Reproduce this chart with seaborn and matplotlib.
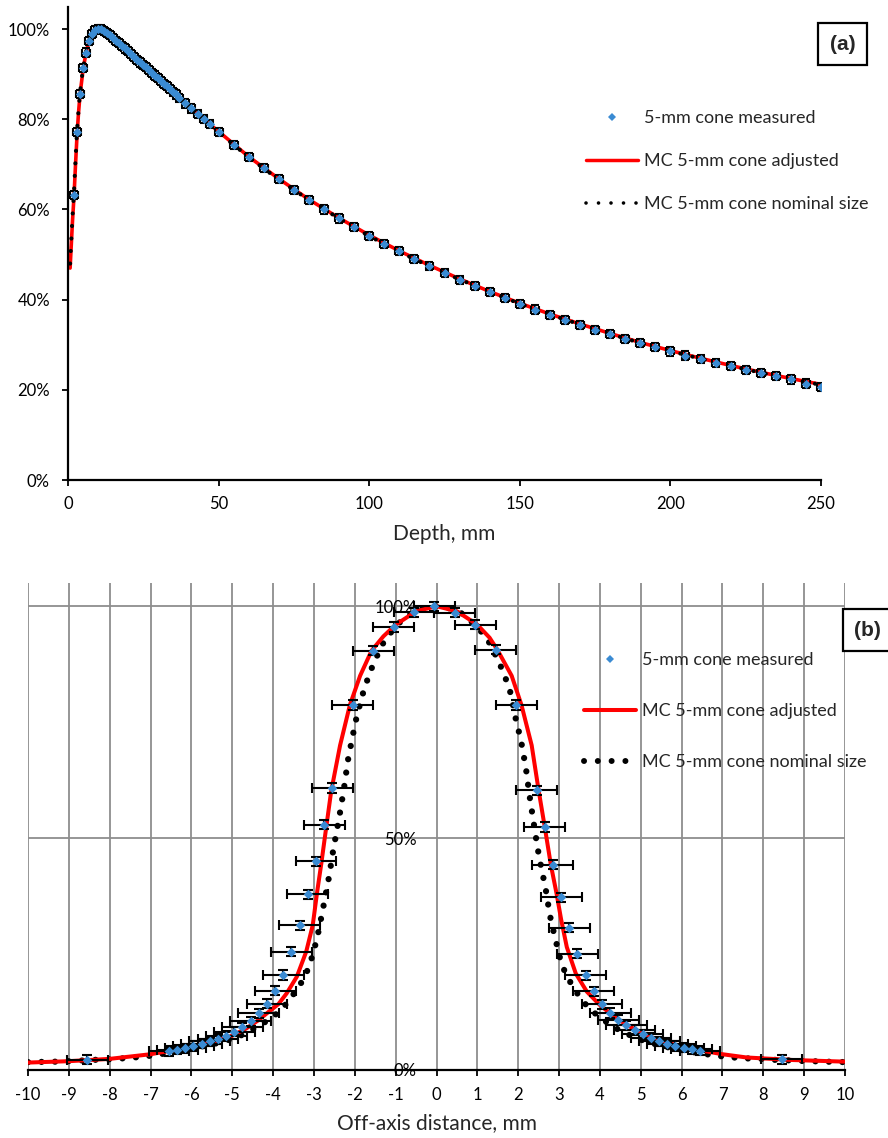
import matplotlib
matplotlib.use("Agg")
import matplotlib.pyplot as plt
from matplotlib.lines import Line2D
from matplotlib.ticker import PercentFormatter
import seaborn as sns

# ---------------- data: panel (a) depth dose ----------------
depth_meas = [2, 3, 4, 5, 6, 7, 8, 9, 10, 11, 12, 13, 14, 15, 16, 17, 18, 19, 20,
              21, 22, 23, 24, 25, 26, 27, 28, 29, 30, 31, 32, 33, 34, 35, 36,
              37, 39, 41, 43, 45, 47, 50, 55, 60, 65, 70, 75, 80, 85, 90, 95, 100,
              105, 110, 115, 120, 125, 130, 135, 140, 145, 150, 155, 160, 165, 170,
              175, 180, 185, 190, 195, 200, 205, 210, 215, 220, 225, 230, 235, 240,
              245, 250]
pdd_meas = [63.3, 77.2, 85.6, 91.4, 94.8, 97.4, 99.0, 99.8, 100.0, 100.0, 99.6, 99.1,
            98.6, 98.0, 97.4, 96.9, 96.3, 95.7, 95.1, 94.4, 93.8, 93.2, 92.6, 92.0,
            91.5, 90.9, 90.3, 89.7, 89.1, 88.5, 87.9, 87.3, 86.7, 86.1, 85.5,
            84.7, 83.5, 82.4, 81.2, 80.0, 78.9, 77.2, 74.3, 71.6, 69.1, 66.7, 64.3,
            62.1, 60.0, 58.0, 56.1, 54.2, 52.4, 50.7, 49.0, 47.4, 45.9, 44.4, 43.0,
            41.6, 40.3, 39.0, 37.8, 36.6, 35.5, 34.4, 33.3, 32.3, 31.3, 30.3, 29.4,
            28.5, 27.6, 26.8, 26.0, 25.2, 24.4, 23.7, 23.0, 22.3, 21.4, 20.7]

depth_mc = [0.7, 1.0, 1.5, 2.0, 2.5, 3.0, 3.5, 4.0, 5.0, 6.0, 7.0, 8.0, 9.0, 10.0,
            11.0, 12.0, 14, 16, 18, 20, 25, 30, 35, 40, 45, 50, 60, 70, 80, 90, 100,
            110, 120, 130, 140, 150, 160, 170, 180, 190, 200, 210, 220, 230, 240, 250]
pdd_adjusted = [47.0, 51.0, 57.5, 63.0, 70.0, 76.5, 81.5, 85.5, 91.0, 94.8, 97.3, 98.8,
                99.6, 100.0, 100.0, 99.7, 98.7, 97.5, 96.3, 95.1, 92.0, 89.1, 86.1,
                83.0, 80.0, 77.3, 71.7, 66.8, 62.2, 58.1, 54.3, 50.8, 47.6, 44.6, 41.8,
                39.2, 36.8, 34.6, 32.5, 30.5, 28.7, 27.0, 25.4, 23.9, 22.5, 21.2]
pdd_nominal = [48.0, 52.0, 58.5, 64.0, 71.0, 77.5, 82.0, 86.0, 91.3, 95.0, 97.5, 99.0,
               99.8, 100.0, 99.9, 99.6, 98.6, 97.4, 96.2, 95.0, 91.9, 88.9, 85.9,
               82.9, 79.9, 77.1, 71.6, 66.6, 62.1, 58.0, 54.1, 50.6, 47.4, 44.5, 41.7,
               39.1, 36.7, 34.5, 32.4, 30.4, 28.6, 26.9, 25.3, 23.8, 22.4, 21.1]

# ---------------- data: panel (b) profile ----------------
off_meas = [-8.55, -6.55, -6.35, -6.15, -5.95, -5.75, -5.55, -5.35, -5.15, -4.95,
            -4.75, -4.55, -4.35, -4.15, -3.95, -3.75, -3.55, -3.35, -3.15, -2.95,
            -2.75, -2.55, -2.05, -1.55, -1.05, -0.55, -0.05, 0.45, 0.95, 1.45, 1.95,
            2.45, 2.65, 2.85, 3.05, 3.25, 3.45, 3.65, 3.85, 4.05, 4.25, 4.45, 4.65,
            4.85, 5.05, 5.25, 5.45, 5.65, 5.85, 6.05, 6.25, 6.45, 8.45]
prof_meas = [2.2, 4.1, 4.4, 4.7, 5.2, 5.7, 6.2, 6.7, 7.4, 8.3, 9.2, 10.5, 12.2, 14.3,
             17.1, 20.5, 25.5, 31.2, 37.9, 45.0, 52.9, 60.8, 78.7, 90.4, 95.5, 98.7,
             100.0, 98.6, 96.0, 90.6, 78.7, 60.3, 52.4, 44.3, 37.2, 30.7, 25.1, 20.4,
             17.0, 14.2, 12.3, 10.8, 9.6, 8.6, 7.7, 7.0, 6.2, 5.7, 5.2, 4.8, 4.5, 4.2,
             2.3]

off_adjusted = [-10, -9, -8, -7, -6.3, -6.0, -5.5, -5.0, -4.65, -4.35, -4.1, -3.87,
                -3.67, -3.42, -3.19, -3.03, -2.92, -2.82, -2.72, -2.58, -2.36, -2.12,
                -1.87, -1.59, -1.3, -1.0, -0.5, 0.0, 0.5, 1.0, 1.3, 1.49, 1.84, 2.08,
                2.33, 2.5, 2.65, 2.8, 2.94, 3.05, 3.19, 3.41, 3.68, 4.0, 4.41, 4.9,
                5.39, 6.04, 7.0, 7.59, 8.73, 10]
prof_adjusted = [1.6, 1.9, 2.4, 3.4, 4.5, 5.1, 6.0, 7.4, 9.0, 10.8, 12.6, 14.2, 16.5,
                 20.1, 25.5, 31.2, 38.5, 44.5, 51.0, 60.0, 70.0, 78.7, 85.0, 90.4,
                 93.5, 96.0, 98.9, 100.0, 98.9, 96.0, 93.2, 90.6, 85.0, 78.7, 70.0,
                 60.3, 52.4, 44.2, 38.0, 32.5, 26.5, 20.8, 16.9, 14.0, 11.1, 8.5, 6.6,
                 4.9, 3.4, 2.7, 2.15, 1.8]

off_nominal = [-10, -9.3, -9.0, -8.34, -8.0, -7.4, -7.07, -6.75, -6.44, -6.12, -5.79,
               -5.46, -5.14, -4.85, -4.61, -4.32, -4.03, -3.79, -3.59, -3.41, -3.24,
               -3.12, -3.02, -2.94, -2.87, -2.81, -2.75, -2.63, -2.53, -2.36, -2.26,
               -2.17, -2.05, -1.97, -1.83, -1.73, -1.63, -1.5, -1.38, -1.22, -0.79,
               -0.4, 0.0, 0.35, 0.7, 1.15, 1.31, 1.47, 1.6, 1.71, 1.82, 1.93, 2.02,
               2.09, 2.19, 2.27, 2.37, 2.47, 2.53, 2.59, 2.66, 2.71, 2.76, 2.82, 2.9,
               2.97, 3.05, 3.17, 3.33, 3.5, 3.7, 3.95, 4.2, 4.47, 4.76, 5.1, 5.43,
               5.76, 6.1, 6.61, 6.94, 7.27, 7.59, 7.92, 8.24, 8.86, 9.19, 9.51, 10]
prof_nominal = [1.7, 1.8, 1.9, 2.2, 2.3, 2.7, 3.0, 3.4, 3.9, 4.5, 5.0, 5.6, 6.3, 7.2,
                8.2, 9.7, 11.2, 13.2, 15.1, 17.6, 19.7, 22.4, 25.1, 27.9, 30.6, 33.4,
                36.1, 41.7, 47.3, 55.6, 61.0, 66.7, 72.1, 75.5, 80.4, 83.1, 85.8, 88.3,
                90.9, 93.3, 97.6, 99.4, 100.0, 99.5, 98.1, 94.0, 91.9, 89.0, 86.5,
                84.0, 81.1, 76.1, 72.8, 70.0, 65.0, 59.6, 53.8, 48.1, 45.2, 42.5, 39.7,
                37.0, 34.2, 31.4, 28.7, 26.0, 23.2, 20.6, 18.1, 15.8, 13.6, 11.7, 10.1,
                8.6, 7.4, 6.2, 5.4, 4.7, 4.1, 3.4, 3.0, 2.7, 2.5, 2.4, 2.2, 2.0, 1.9,
                1.8, 1.7]

depth_ticks = [0, 50, 100, 150, 200, 250]
pdd_ticks = [0, 20, 40, 60, 80, 100]
off_ticks = list(range(-10, 11))
off_tick_labels = [str(v) for v in off_ticks]
prof_ticks = [0, 50, 100]
prof_tick_labels = ["0%", "50%", "100%"]

labels = ["5-mm cone measured", "MC 5-mm cone adjusted", "MC 5-mm cone nominal size"]

# ---------------- style ----------------
sns.set_style("white")
plt.rcParams["font.family"] = ["Lato", "DejaVu Sans"]
plt.rcParams["axes.unicode_minus"] = False

BLUE = "#3A8BD3"
RED = "#FF0000"
GRID = "#8E8E8E"
W, H = 888, 1138

fig = plt.figure(figsize=(W / 100, H / 100), dpi=100)

# ================= panel (a) =================
ax1 = fig.add_axes([68 / W, 1 - 480 / H, (821 - 68) / W, (480 - 7) / H])
sns.lineplot(x=depth_mc, y=pdd_adjusted, ax=ax1, color=RED, linewidth=2.6,
             sort=False, estimator=None, zorder=2)
sns.lineplot(x=depth_mc, y=pdd_nominal, ax=ax1, color="black", linewidth=3.0,
             linestyle=(0, (0.01, 3.0)), dash_capstyle="round",
             sort=False, estimator=None, zorder=3)
ax1.errorbar(depth_meas, pdd_meas, xerr=1.3, yerr=0.9, fmt="none", ecolor="black",
             elinewidth=1.5, capsize=3.0, capthick=1.5, zorder=4)
sns.scatterplot(x=depth_meas, y=pdd_meas, ax=ax1, marker="D", s=22, color=BLUE,
                edgecolor=BLUE, linewidth=0, zorder=5, legend=False)

ax1.set_xlim(0, 250)
ax1.set_ylim(0, 104.9)
ax1.set_xticks(depth_ticks)
ax1.set_yticks(pdd_ticks)
ax1.yaxis.set_major_formatter(PercentFormatter(xmax=100, decimals=0))
for s in ["top", "right"]:
    ax1.spines[s].set_visible(False)
for s in ["left", "bottom"]:
    ax1.spines[s].set_color("black")
    ax1.spines[s].set_linewidth(1.6)
ax1.tick_params(axis="both", which="major", direction="out", length=4.5, width=1.3,
                colors="black", labelsize=12, left=True, bottom=True)
ax1.tick_params(axis="y", pad=8.5)
ax1.tick_params(axis="x", pad=7)
ax1.set_xlabel("Depth, mm", fontsize=15)
ax1.set_ylabel("")
ax1.xaxis.set_label_coords(0.5, -0.093)
ax1.xaxis.label.set_va("top")

h_meas = Line2D([], [], linestyle="none", marker="D", markersize=4, color=BLUE,
                markeredgewidth=0)
h_adj_a = Line2D([], [], color=RED, linewidth=2.5)
h_nom_a = Line2D([], [], color="black", linewidth=2.6, linestyle=(0, (0.01, 3.45)),
                 dash_capstyle="round")
fig.legend([h_meas, h_adj_a, h_nom_a], labels, loc="upper left",
           bbox_to_anchor=(586 / W, 1 - 110 / H), bbox_transform=fig.transFigure,
           frameon=False, fontsize=13, handlelength=2.9, handletextpad=0.3,
           labelspacing=1.5, borderpad=0, borderaxespad=0)

fig.text(842.5 / W, 1 - 44 / H, "(a)", ha="center", va="center", fontsize=15,
         fontweight="bold", family=["Liberation Sans", "DejaVu Sans"],
         bbox=dict(boxstyle="square,pad=0.55", fc="white", ec="black", lw=1.6))

# ================= panel (b) =================
ax2 = fig.add_axes([28 / W, 1 - 1070 / H, (845 - 28) / W, (1070 - 583) / H])
ax2.set_axisbelow(True)
ax2.grid(True, color=GRID, linewidth=1.3)
sns.lineplot(x=off_adjusted, y=prof_adjusted, ax=ax2, color=RED, linewidth=2.9,
             sort=False, estimator=None, zorder=3)
sns.lineplot(x=off_nominal, y=prof_nominal, ax=ax2, color="black", linewidth=4.5,
             linestyle=(0, (0.01, 2.15)), dash_capstyle="round",
             sort=False, estimator=None, zorder=2)
ax2.errorbar(off_meas, prof_meas, xerr=0.5, yerr=1.0, fmt="none", ecolor="black",
             elinewidth=1.5, capsize=3.5, capthick=1.5, zorder=4)
sns.scatterplot(x=off_meas, y=prof_meas, ax=ax2, marker="D", s=24, color=BLUE,
                edgecolor=BLUE, linewidth=0, zorder=5, legend=False)

ax2.set_xlim(-10, 10)
ax2.set_ylim(0, 105)
ax2.set_xticks(off_ticks)
ax2.set_xticklabels(off_tick_labels)
ax2.set_yticks(prof_ticks)
ax2.set_yticklabels(prof_tick_labels)
ax2.spines["left"].set_position(("data", 0))
for s in ["top", "right", "left"]:
    ax2.spines[s].set_visible(False)
ax2.spines["bottom"].set_color("black")
ax2.spines["bottom"].set_linewidth(1.6)
ax2.spines["bottom"].set_zorder(6)
ax2.tick_params(axis="x", direction="out", length=4, width=1.3, colors="black",
                labelsize=12, pad=8, bottom=True)
ax2.tick_params(axis="y", length=0, labelsize=12, pad=14.5, colors="black")
ax2.set_xlabel("Off-axis distance, mm", fontsize=15)
ax2.set_ylabel("")
ax2.xaxis.set_label_coords(0.5, -0.088)
ax2.xaxis.label.set_va("top")

h_adj_b = Line2D([], [], color=RED, linewidth=2.9)
h_nom_b = Line2D([], [], color="black", linewidth=4.3, linestyle=(0, (0.01, 2.3)),
                 dash_capstyle="round")
fig.legend([h_meas, h_adj_b, h_nom_b], labels, loc="upper left",
           bbox_to_anchor=(584 / W, 1 - 652 / H), bbox_transform=fig.transFigure,
           frameon=False, fontsize=13, handlelength=2.9, handletextpad=0.3,
           labelspacing=1.95, borderpad=0, borderaxespad=0)

fig.text(867.5 / W, 1 - 630 / H, "(b)", ha="center", va="center", fontsize=15,
         fontweight="bold", family=["Liberation Sans", "DejaVu Sans"],
         bbox=dict(boxstyle="square,pad=0.55", fc="white", ec="black", lw=1.6))

fig.savefig("out.png", dpi=100, facecolor="white")
